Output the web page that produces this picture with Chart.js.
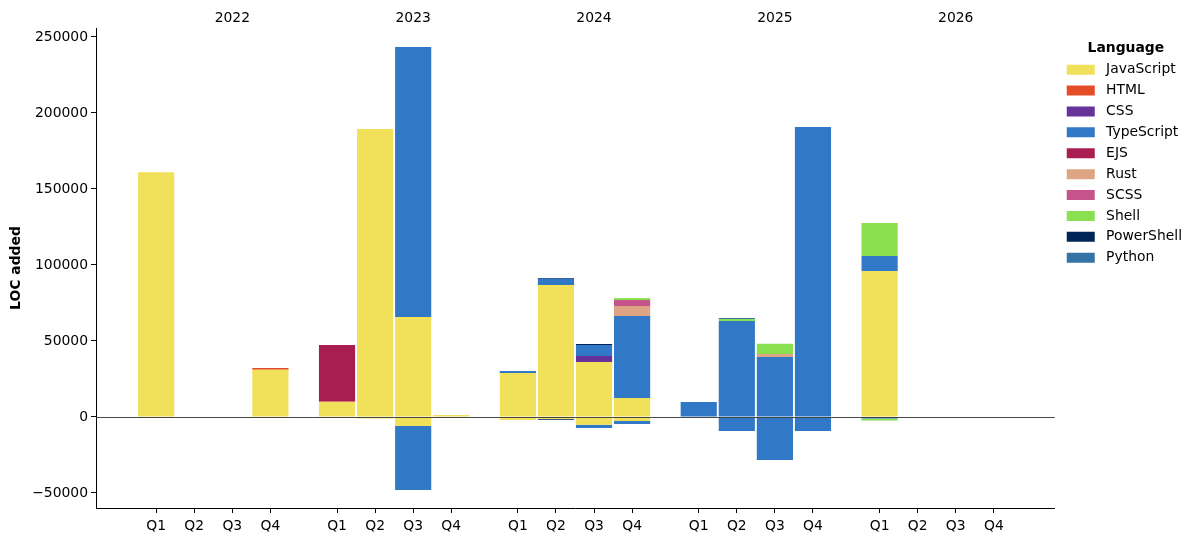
<!DOCTYPE html>
<html><head><meta charset="utf-8">
<script src="https://cdn.jsdelivr.net/npm/chart.js@4.4.1/dist/chart.umd.min.js"></script>
<style>html,body{margin:0;padding:0;background:#fff}#wrap{width:1197px;height:542px}</style>
</head><body><div id="wrap"><canvas id="c" width="1197" height="542"></canvas></div>
<script>
const years = ['2022', '2023', '2024', '2025', '2026'];
const quarterLabels = ['Q1', 'Q2', 'Q3', 'Q4'];
const yTicks = [-50000, 0, 50000, 100000, 150000, 200000, 250000];
const languages = ['JavaScript', 'HTML', 'CSS', 'TypeScript', 'EJS', 'Rust', 'SCSS', 'Shell', 'PowerShell', 'Python'];
const colors = ['#f1e05a', '#e34c26', '#663399', '#3178c6', '#a91e50', '#dea584', '#c6538c', '#89e051', '#012456', '#3572a5'];

// quarters: 2022Q1..Q4, 2023Q1..Q4, 2024Q1..Q4, 2025Q1..Q4, 2026Q1..Q4
const jsAdded    = [161000, 0, 0, 31000,  10000, 189500, 65800, 1300,  28900, 86800, 36200, 12500,  0, 0, 0, 0,  96000, 0, 0, 0];
const jsRemoved  = [0, 0, 0, 0,  0, -1000, -5900, 0,  -2000, -1300, -5200, -2600,  0, 0, 0, 0,  0, 0, 0, 0];
const htmlAdded  = [0, 0, 0, 1200,  0, 0, 0, 0,  0, 0, 0, 0,  0, 0, 0, 0,  0, 0, 0, 0];
const htmlRemoved= [0, 0, 0, 0,  0, 0, 0, 0,  0, 0, 0, 0,  0, 0, 0, 0,  0, 0, 0, 0];
const cssAdded   = [0, 0, 0, 0,  0, 0, 0, 0,  0, 0, 3950, 0,  0, 0, 0, 0,  0, 0, 0, 0];
const cssRemoved = [0, 0, 0, 0,  0, 0, 0, 0,  0, 0, 0, 0,  0, 0, 0, 0,  0, 0, 0, 0];
const tsAdded    = [0, 0, 0, 0,  0, 0, 177600, 0,  1300, 4100, 7250, 53950,  9900, 63200, 39500, 190800,  9900, 0, 0, 0];
const tsRemoved  = [0, 0, 0, 0,  0, 0, -42100, 0,  0, 0, -2000, -2000,  0, -9200, -28300, -9200,  -1000, 0, 0, 0];
const ejsAdded   = [0, 0, 0, 0,  37400, 0, 0, 0,  0, 0, 0, 0,  0, 0, 0, 0,  0, 0, 0, 0];
const ejsRemoved = [0, 0, 0, 0,  -400, 0, 0, 0,  0, 0, 0, 0,  0, 0, 0, 0,  0, 0, 0, 0];
const rustAdded  = [0, 0, 0, 0,  0, 0, 0, 0,  0, 0, 0, 6600,  0, 0, 2000, 0,  0, 0, 0, 0];
const rustRemoved= [0, 0, 0, 0,  0, 0, 0, 0,  0, 0, 0, 0,  0, 0, 0, 0,  0, 0, 0, 0];
const scssAdded  = [0, 0, 0, 0,  0, 0, 0, 0,  0, 0, 0, 3950,  0, 0, 0, 0,  0, 0, 0, 0];
const scssRemoved= [0, 0, 0, 0,  0, 0, 0, 0,  0, 0, 0, 0,  0, 0, 0, 0,  0, 0, 0, 0];
const shellAdded = [0, 0, 0, 0,  0, 0, 0, 0,  0, 0, 0, 1300,  0, 1300, 6600, 0,  21700, 0, 0, 0];
const shellRemoved=[0, 0, 0, 0,  0, 0, 0, 0,  0, 0, 0, 0,  0, 0, 0, 0,  -1300, 0, 0, 0];
const psAdded    = [0, 0, 0, 0,  0, 0, 0, 0,  0, 600, 600, 0,  0, 0, 0, 0,  0, 0, 0, 0];
const psRemoved  = [0, 0, 0, 0,  0, 0, 0, 0,  0, -500, 0, 0,  0, 0, 0, 0,  0, 0, 0, 0];
const pyAdded    = [0, 0, 0, 0,  0, 0, 0, 0,  0, 0, 0, 0,  0, 600, 0, 0,  0, 0, 0, 0];
const pyRemoved  = [0, 0, 0, 0,  0, 0, 0, 0,  0, 0, 0, 0,  0, 0, 0, 0,  0, 0, 0, 0];

const added = [jsAdded, htmlAdded, cssAdded, tsAdded, ejsAdded, rustAdded, scssAdded, shellAdded, psAdded, pyAdded];
const removed = [jsRemoved, htmlRemoved, cssRemoved, tsRemoved, ejsRemoved, rustRemoved, scssRemoved, shellRemoved, psRemoved, pyRemoved];

const YEAR_STEP = 4.75;
const xPos = [];
years.forEach((y, yi) => quarterLabels.forEach((q, qi) => xPos.push(yi * YEAR_STEP + qi)));
const yearPos = years.map((y, yi) => yi * YEAR_STEP + 2);
const X_MIN = -1.58, X_MAX = 23.6;

const FONT = "'DejaVu Sans', sans-serif";
Chart.defaults.font.family = FONT;
Chart.defaults.font.size = 13.9;
Chart.defaults.color = '#000';

const datasets = [];
languages.forEach((lang, i) => datasets.push({
  label: lang, data: added[i].map((v, k) => ({x: xPos[k], y: v === 0 ? null : v})),
  backgroundColor: colors[i], borderWidth: 0, stack: 's'
}));
languages.forEach((lang, i) => datasets.push({
  label: lang + ' (removed)', data: removed[i].map((v, k) => ({x: xPos[k], y: v === 0 ? null : v})),
  backgroundColor: colors[i], borderWidth: 0, stack: 's'
}));

const zeroLine = {
  id: 'zeroLine',
  afterDatasetsDraw(chart) {
    const ctx = chart.ctx, y = Math.round(chart.scales.y.getPixelForValue(0)) + 0.5;
    ctx.save();
    ctx.strokeStyle = '#333';
    ctx.lineWidth = 0.9;
    ctx.beginPath();
    ctx.moveTo(chart.chartArea.left, y);
    ctx.lineTo(chart.chartArea.right, y);
    ctx.stroke();
    ctx.restore();
  }
};

const legendShift = {
  id: 'legendShift',
  afterLayout(chart) {
    if (chart.legend) { chart.legend.left += 5; chart.legend.right += 5; }
  }
};

new Chart(document.getElementById('c'), {
  type: 'bar',
  data: {datasets},
  plugins: [zeroLine, legendShift],
  options: {
    responsive: false, animation: false, devicePixelRatio: 1,
    barPercentage: 0.95, categoryPercentage: 1.0,
    layout: {padding: {left: 0, top: 0, bottom: 0, right: 10}},
    plugins: {
      tooltip: {enabled: false},
      legend: {
        position: 'right', align: 'start',
        title: {display: true, text: 'Language', font: {weight: 'bold', size: 13.9}, padding: {top: 41, bottom: -2}},
        labels: {
          boxWidth: 28, boxHeight: 10, padding: 7, color: '#000', font: {size: 13.9},
          filter: (item) => item.datasetIndex < languages.length,
          generateLabels: (chart) => Chart.defaults.plugins.legend.labels.generateLabels(chart)
            .map(l => Object.assign(l, {text: ' ' + l.text}))
        }
      }
    },
    scales: {
      x: {
        type: 'linear', position: 'bottom', min: X_MIN, max: X_MAX, offset: false, stacked: true,
        grid: {display: true, offset: false, drawOnChartArea: false, drawTicks: true, tickLength: 5, tickColor: '#000'},
        border: {display: true, color: '#000', width: 1},
        ticks: {autoSkip: false, maxRotation: 0, padding: 5, callback: (v, i) => quarterLabels[i % 4]},
        afterBuildTicks: (s) => { s.ticks = xPos.map(v => ({value: v})); },
        afterFit: (s) => { s.height = 34; }
      },
      xTop: {
        type: 'linear', position: 'top', min: X_MIN, max: X_MAX, offset: false,
        grid: {display: false, offset: false}, border: {display: false},
        ticks: {autoSkip: false, maxRotation: 0, padding: -7, callback: (v, i) => years[i]},
        afterBuildTicks: (s) => { s.ticks = yearPos.map(v => ({value: v})); },
        afterFit: (s) => { s.height = 28; }
      },
      y: {
        type: 'linear', min: -59900, max: 255900, stacked: true,
        grid: {display: true, drawOnChartArea: false, drawTicks: true, tickLength: 5, tickColor: '#000'},
        border: {display: true, color: '#000', width: 1},
        ticks: {padding: 3, callback: (v) => v < 0 ? '\u2212' + Math.abs(v) : String(v)},
        afterBuildTicks: (s) => { s.ticks = yTicks.map(v => ({value: v})); },
        title: {display: true, text: 'LOC added', font: {weight: 'bold', size: 13.9}, padding: {top: 8, bottom: 0}},
        afterFit: (s) => { s.width = 96; }
      }
    }
  }
});
</script></body></html>
